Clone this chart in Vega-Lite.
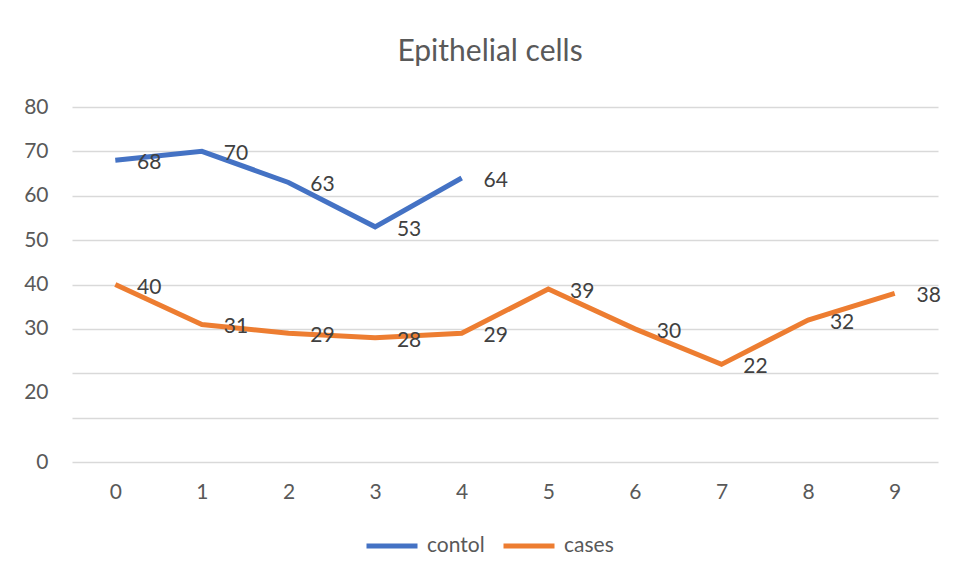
{
  "$schema": "https://vega.github.io/schema/vega-lite/v6.json",
  "autosize": {"type": "none"},
  "width": 866,
  "height": 355,
  "padding": {"left": 72, "top": 107, "right": 19, "bottom": 118},
  "background": "white",
  "config": {
    "view": {"stroke": null},
    "font": "Lato"
  },
  "title": {
    "text": "Epithelial cells",
    "font": "Lato",
    "fontSize": 30,
    "fontWeight": "normal",
    "color": "#595959",
    "anchor": "middle",
    "dx": -15,
    "baseline": "alphabetic",
    "offset": 5
  },
  "data": {
    "values": [
      {"x": 0, "series": "contol", "value": 68},
      {"x": 1, "series": "contol", "value": 70},
      {"x": 2, "series": "contol", "value": 63},
      {"x": 3, "series": "contol", "value": 53},
      {"x": 4, "series": "contol", "value": 64},
      {"x": 0, "series": "cases", "value": 40},
      {"x": 1, "series": "cases", "value": 31},
      {"x": 2, "series": "cases", "value": 29},
      {"x": 3, "series": "cases", "value": 28},
      {"x": 4, "series": "cases", "value": 29},
      {"x": 5, "series": "cases", "value": 39},
      {"x": 6, "series": "cases", "value": 30},
      {"x": 7, "series": "cases", "value": 22},
      {"x": 8, "series": "cases", "value": 32},
      {"x": 9, "series": "cases", "value": 38}
    ]
  },
  "encoding": {
    "x": {
      "field": "x",
      "type": "ordinal",
      "scale": {"type": "point", "padding": 0.5, "domain": [0,1,2,3,4,5,6,7,8,9]},
      "axis": {
        "title": null,
        "labelAngle": 0,
        "domain": false,
        "ticks": false,
        "grid": false,
        "labelFont": "Lato",
        "labelFontSize": 21,
        "labelColor": "#595959",
        "labelPadding": 19
      }
    },
    "y": {
      "field": "value",
      "type": "quantitative",
      "scale": {"domain": [0, 80], "nice": false},
      "axis": {
        "title": null,
        "values": [0, 10, 20, 30, 40, 50, 60, 70, 80],
        "labelExpr": "datum.value === 10 ? '' : datum.label",
        "labelOffset": {"condition": {"test": "datum.value === 20", "value": 19}, "value": 0},
        "labelOverlap": false,
        "domain": false,
        "ticks": false,
        "grid": true,
        "gridColor": "#d9d9d9",
        "gridWidth": 1.5,
        "labelFont": "Lato",
        "labelFontSize": 21,
        "labelColor": "#595959",
        "labelPadding": 24
      }
    },
    "color": {
      "field": "series",
      "type": "nominal",
      "scale": {"domain": ["contol", "cases"], "range": ["#4472C4", "#ED7D31"]},
      "legend": {
        "title": null,
        "orient": "none",
        "direction": "horizontal",
        "legendX": 292,
        "legendY": 411,
        "symbolType": "stroke",
        "symbolSize": 2601,
        "symbolStrokeWidth": 5,
        "labelFont": "Lato",
        "labelFontSize": 21,
        "labelColor": "#595959",
        "labelOffset": 7,
        "columnPadding": 8
      }
    }
  },
  "layer": [
    {
      "mark": {"type": "line", "strokeWidth": 5, "strokeJoin": "miter"}
    },
    {
      "mark": {"type": "text", "dx": 34, "dy": 3, "align": "center", "baseline": "middle", "fontSize": 21, "font": "Lato", "color": "#404040"},
      "encoding": {
        "text": {"field": "value", "type": "quantitative"},
        "color": {"value": "#404040"}
      }
    }
  ]
}
